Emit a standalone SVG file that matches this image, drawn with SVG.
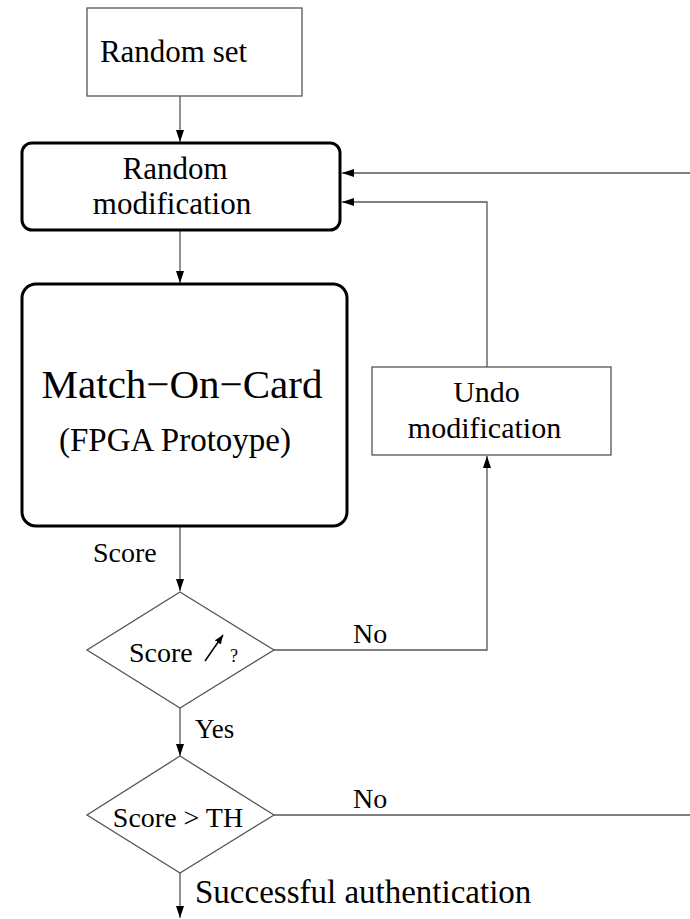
<svg xmlns="http://www.w3.org/2000/svg" width="690" height="919" viewBox="0 0 690 919" font-family="'Liberation Serif', 'Times New Roman', serif">
  <style>
    .box { fill: #fff; stroke: #555; stroke-width: 1.3; }
    .bold { fill: #fff; stroke: #000; stroke-width: 3; }
    .line { fill: none; stroke: #555; stroke-width: 1.3; }
    .t { font-family: 'Liberation Serif', 'Times New Roman', serif; fill: #000; }
    .c { text-anchor: middle; }
  </style>
  <defs>
    <marker id="arrow" viewBox="0 0 12 8" refX="12" refY="4" markerWidth="12" markerHeight="8" markerUnits="userSpaceOnUse" orient="auto">
      <path d="M0,0 L12,4 L0,8 Z" fill="#000"/>
    </marker>
    <marker id="tiny" viewBox="0 0 10 8" refX="10" refY="4" markerWidth="9" markerHeight="8" markerUnits="userSpaceOnUse" orient="auto">
      <path d="M0,0 L10,4 L0,8 Z" fill="#000"/>
    </marker>
  </defs>

  <g id="connectors">
    <line class="line" x1="180" y1="96" x2="180" y2="142" marker-end="url(#arrow)"/>
    <line class="line" x1="180" y1="230" x2="180" y2="283" marker-end="url(#arrow)"/>
    <line class="line" x1="180" y1="527" x2="180" y2="591" marker-end="url(#arrow)"/>
    <line class="line" x1="180" y1="708" x2="180" y2="756" marker-end="url(#arrow)"/>
    <line class="line" x1="180" y1="873" x2="180" y2="918" marker-end="url(#arrow)"/>
    <!-- score did not rise: undo, then back to modification -->
    <polyline class="line" points="274,650 487,650 487,456" marker-end="url(#arrow)"/>
    <polyline class="line" points="487,367 487,202 342,202" marker-end="url(#arrow)"/>
    <!-- below threshold: loop back from the right -->
    <line class="line" x1="274" y1="815" x2="690" y2="815"/>
    <line class="line" x1="690" y1="173" x2="342" y2="173" marker-end="url(#arrow)"/>
    <text class="t" x="93" y="562" font-size="28">Score</text>
    <text class="t" x="353" y="643" font-size="28">No</text>
    <text class="t" x="195" y="738" font-size="27">Yes</text>
    <text class="t" x="353" y="808" font-size="28">No</text>
    <text class="t" x="195" y="903" font-size="33">Successful authentication</text>
  </g>

  <g id="random-set">
    <rect class="box" x="87" y="8" width="215" height="88"/>
    <text class="t c" x="173.5" y="62" font-size="31">Random set</text>
  </g>

  <g id="random-modification">
    <rect class="bold" x="22" y="143" width="318" height="87" rx="10"/>
    <text class="t c" x="175" y="179" font-size="31">Random</text>
    <text class="t c" x="172" y="214" font-size="31">modification</text>
  </g>

  <g id="match-on-card">
    <rect class="bold" x="22" y="284" width="325" height="242" rx="14"/>
    <text class="t c" x="182" y="398" font-size="41">Match−On−Card</text>
    <text class="t c" x="175" y="451" font-size="33">(FPGA Protoype)</text>
  </g>

  <g id="undo-modification">
    <rect class="box" x="372" y="367" width="239" height="88"/>
    <text class="t c" x="486.5" y="402" font-size="30">Undo</text>
    <text class="t c" x="484.5" y="438" font-size="30">modification</text>
  </g>

  <g id="score-increased">
    <polygon class="box" points="180,592 274,650 180,708 87,650"/>
    <text class="t" x="129" y="662" font-size="28">Score</text>
    <line x1="205" y1="661" x2="223" y2="635" stroke="#000" stroke-width="1.5" marker-end="url(#tiny)"/>
    <text class="t" x="230" y="662" font-size="18">?</text>
  </g>

  <g id="score-threshold">
    <polygon class="box" points="180,756 274,815 180,873 87,815"/>
    <text class="t c" x="178" y="827" font-size="28">Score &gt; TH</text>
  </g>
</svg>
